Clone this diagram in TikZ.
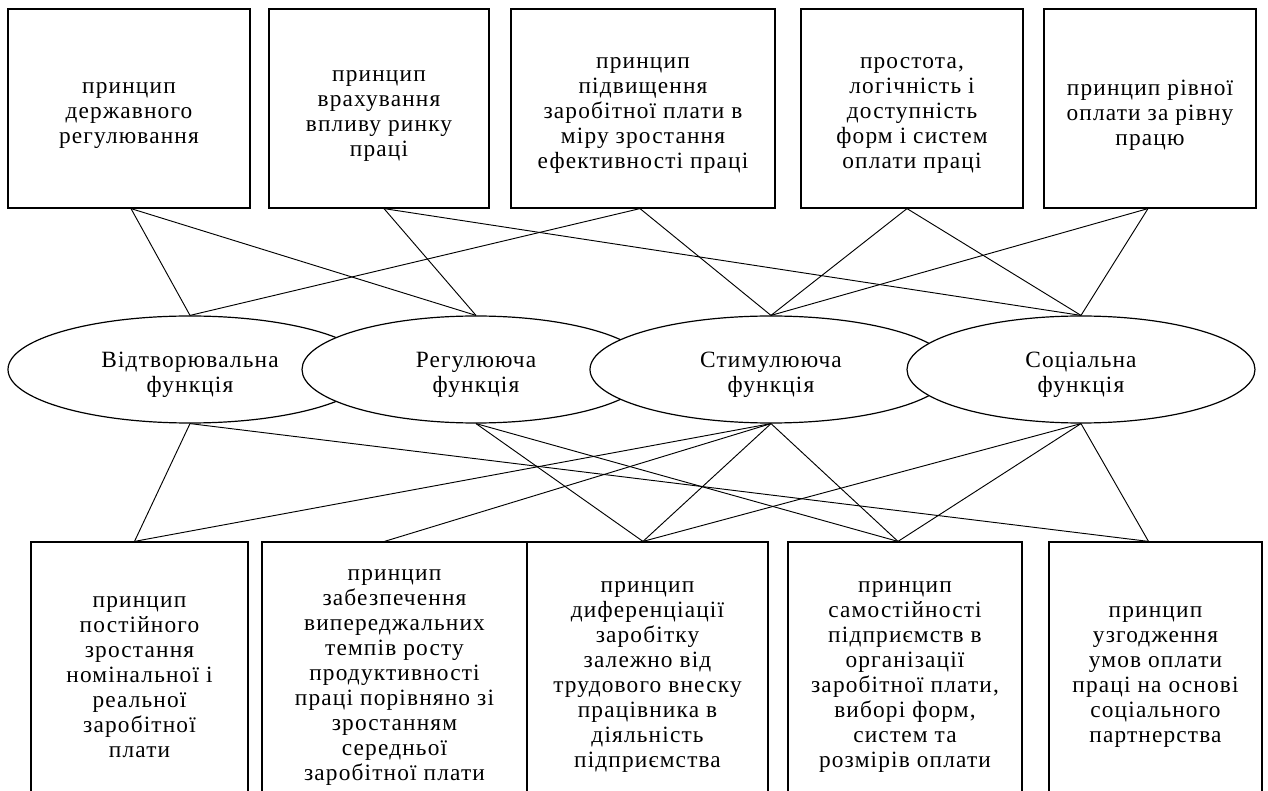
\documentclass[tikz,border=0pt]{standalone}
\usepackage{fontspec}
\setmainfont{Liberation Serif}[LetterSpace=5]
\usetikzlibrary{shapes.geometric}
\newcommand{\pxu}{0.75pt}
\begin{document}
\begin{tikzpicture}[x=0.75pt,y=-0.75pt,
  txt/.style={font=\fontsize{17.5pt}{18.75pt}\selectfont, align=center, text=black, inner sep=0pt},
  pbox/.style={draw=black, line width=0.9pt, rectangle, inner sep=0pt},
  topbox/.style={pbox, minimum height=199*\pxu},
  botbox/.style={pbox, minimum height=258*\pxu},
  fell/.style={draw=black, line width=0.9pt, ellipse, fill=white, inner sep=0pt, minimum height=107*\pxu},
  link/.style={draw=black, line width=0.7pt}]
\fill[white] (0,0) rectangle (1268,791);
\useasboundingbox (0,0) rectangle (1268,791);
\clip (0,0) rectangle (1268,791);

% top boxes
\node[topbox, minimum width=242*\pxu] (t1) at (129,108.5) {};
\node[topbox, minimum width=220*\pxu] (t2) at (379,108.5) {};
\node[topbox, minimum width=264*\pxu] (t3) at (643,108.5) {};
\node[topbox, minimum width=222*\pxu] (t4) at (912,108.5) {};
\node[topbox, minimum width=212*\pxu] (t5) at (1150,108.5) {};

% ellipses
\node[fell, minimum width=364*\pxu] (e1) at (190,369.5) {};
\node[fell, minimum width=348*\pxu] (e2) at (476,369.5) {};
\node[fell, minimum width=362*\pxu] (e3) at (771,369.5) {};
\node[fell, minimum width=348*\pxu] (e4) at (1081,369.5) {};

% bottom boxes
\node[botbox, minimum width=217*\pxu] (b1) at (139.5,671) {};
\node[botbox, minimum width=265*\pxu] (b2) at (394.5,671) {};
\node[botbox, minimum width=241*\pxu] (b3) at (647.5,671) {};
\node[botbox, minimum width=234*\pxu] (b4) at (905,671) {};
\node[botbox, minimum width=213*\pxu] (b5) at (1155.5,671) {};

% texts
\node[txt] (t1x) at ([yshift=-5.25pt]t1.center) {принцип\\державного\\регулювання};
\node[txt] (t2x) at ([yshift=-5.25pt]t2.center) {принцип\\врахування\\впливу ринку\\праці};
\node[txt] (t3x) at ([yshift=-5.25pt]t3.center) {принцип\\підвищення\\заробітної плати в\\міру зростання\\ефективності праці};
\node[txt] (t4x) at ([yshift=-5.25pt]t4.center) {простота,\\логічність і\\доступність\\форм і систем\\оплати праці};
\node[txt] (t5x) at ([yshift=-5.25pt]t5.center) {принцип рівної\\оплати за рівну\\працю};

\node[txt] (e1x) at ([yshift=-3.75pt]e1.center) {Відтворювальна\\функція};
\node[txt] (e2x) at ([yshift=-3.75pt]e2.center) {Регулююча\\функція};
\node[txt] (e3x) at ([yshift=-3.75pt]e3.center) {Стимулююча\\функція};
\node[txt] (e4x) at ([yshift=-3.75pt]e4.center) {Соціальна\\функція};

\node[txt] (b1x) at ([yshift=-4.5pt]b1.center) {принцип\\постійного\\зростання\\номінальної і\\реальної\\заробітної\\плати};
\node[txt] (b2x) at ([yshift=-4.5pt]b2.center) {принцип\\забезпечення\\випереджальних\\темпів росту\\продуктивності\\праці порівняно зі\\зростанням\\середньої\\заробітної плати};
\node[txt] (b3x) at ([yshift=-4.5pt]b3.center) {принцип\\диференціації\\заробітку\\залежно від\\трудового внеску\\працівника в\\діяльність\\підприємства};
\node[txt] (b4x) at ([yshift=-4.5pt]b4.center) {принцип\\самостійності\\підприємств в\\організації\\заробітної плати,\\виборі форм,\\систем та\\розмірів оплати};
\node[txt] (b5x) at ([yshift=-4.5pt]b5.center) {принцип\\узгодження\\умов оплати\\праці на основі\\соціального\\партнерства};

% anchor points
\coordinate (t1s) at ([xshift=1.5pt]t1.south);
\coordinate (t2s) at ([xshift=3.75pt]t2.south);
\coordinate (t3s) at ([xshift=-2.25pt]t3.south);
\coordinate (t4s) at ([xshift=-3.75pt]t4.south);
\coordinate (t5s) at ([xshift=-1.5pt]t5.south);
\coordinate (b1n) at ([xshift=-3.75pt]b1.north);
\coordinate (b2n) at ([xshift=-7.5pt]b2.north);
\coordinate (b3n) at ([xshift=-3.4pt]b3.north);
\coordinate (b4n) at ([xshift=-5.25pt]b4.north);
\coordinate (b5n) at ([xshift=-5.25pt]b5.north);

% top connectors
\draw[link] (t1s) -- (e1.north);
\draw[link] (t1s) -- (e2.north);
\draw[link] (t2s) -- (e2.north);
\draw[link] (t2s) -- (e4.north);
\draw[link] (t3s) -- (e1.north);
\draw[link] (t3s) -- (e3.north);
\draw[link] (t4s) -- (e3.north);
\draw[link] (t4s) -- (e4.north);
\draw[link] (t5s) -- (e3.north);
\draw[link] (t5s) -- (e4.north);

% bottom connectors
\draw[link] (e1.south) -- (b1n);
\draw[link] (e1.south) -- (b5n);
\draw[link] (e2.south) -- (b3n);
\draw[link] (e2.south) -- (b4n);
\draw[link] (e3.south) -- (b1n);
\draw[link] (e3.south) -- (b2n);
\draw[link] (e3.south) -- (b3n);
\draw[link] (e3.south) -- (b4n);
\draw[link] (e4.south) -- (b3n);
\draw[link] (e4.south) -- (b4n);
\draw[link] (e4.south) -- (b5n);
\end{tikzpicture}
\end{document}
